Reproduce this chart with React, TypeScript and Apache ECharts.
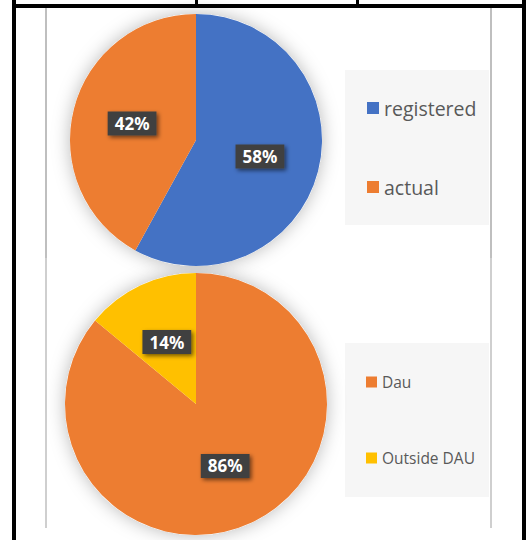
import React, { useEffect, useRef } from "react";
import * as echarts from "echarts";

const pie1Names = ["registered", "actual"];
const pie1Values = [58, 42];
const pie1Colors = ["#4472C4", "#ED7D31"];

const pie2Names = ["Dau", "Outside DAU"];
const pie2Values = [86, 14];
const pie2Colors = ["#ED7D31", "#FFC000"];

const sum = (a: number[]) => a.reduce((s, v) => s + v, 0);

export default function App() {
  const ref = useRef<HTMLDivElement>(null);
  useEffect(() => {
    if (!ref.current) return;
    const chart = echarts.init(ref.current, null, { renderer: "svg" });
    const labelStyle = {
      show: true,
      position: "inside",
      formatter: (p: any) => Math.round(p.percent) + "%",
      color: "#ffffff",
      fontWeight: "bold",
      fontSize: 17,
      fontFamily: "Noto Sans",
      backgroundColor: "#404040",
      padding: [4, 7, 3, 7],
      shadowColor: "rgba(0,0,0,0.55)",
      shadowBlur: 4,
      shadowOffsetX: 2,
      shadowOffsetY: 2,
    };
    const shadowSeries = (center: number[], radius: number, total: number) => ({
      type: "pie",
      silent: true,
      center,
      radius,
      z: 1,
      label: { show: false },
      labelLine: { show: false },
      itemStyle: {
        color: "#ffffff",
        shadowBlur: 18,
        shadowColor: "rgba(0,0,0,0.28)",
      },
      data: [{ value: total, name: "_bg" }],
    });
    const gray = "#bfbfbf";
    chart.setOption({
      animation: false,
      backgroundColor: "#ffffff",
      graphic: [
        { type: "rect", z: -1, shape: { x: 345, y: 70, width: 144, height: 155 }, style: { fill: "#f6f6f6" } },
        { type: "rect", z: -1, shape: { x: 345, y: 343, width: 144, height: 154 }, style: { fill: "#f6f6f6" } },
        { type: "rect", shape: { x: 45, y: 8, width: 2, height: 250 }, style: { fill: gray } },
        { type: "rect", shape: { x: 45, y: 258, width: 2, height: 270 }, style: { fill: "#cfcfcf" } },
        { type: "rect", shape: { x: 490, y: 8, width: 2, height: 250 }, style: { fill: gray } },
        { type: "rect", shape: { x: 490, y: 258, width: 2, height: 270 }, style: { fill: "#cfcfcf" } },
        { type: "rect", shape: { x: 12, y: 4, width: 514, height: 4 }, style: { fill: "#000" } },
        { type: "rect", shape: { x: 12, y: 0, width: 4, height: 540 }, style: { fill: "#000" } },
        { type: "rect", shape: { x: 522, y: 0, width: 4, height: 540 }, style: { fill: "#000" } },
        { type: "rect", shape: { x: 195, y: 0, width: 3, height: 6 }, style: { fill: "#000" } },
        { type: "rect", shape: { x: 356, y: 0, width: 3, height: 6 }, style: { fill: "#000" } },
      ],
      legend: [
        {
          data: pie1Names,
          orient: "vertical",
          left: 362,
          top: 91,
          itemWidth: 12,
          itemHeight: 12,
          itemGap: 55,
          icon: "rect",
          textStyle: { color: "#595959", fontSize: 19.5, lineHeight: 24, fontFamily: "Open Sans" },
          selectedMode: false,
        },
        {
          data: pie2Names,
          orient: "vertical",
          left: 361,
          top: 367,
          itemWidth: 11,
          itemHeight: 11,
          itemGap: 56,
          icon: "rect",
          textStyle: { color: "#595959", fontSize: 15.5, lineHeight: 20, fontFamily: "Open Sans" },
          selectedMode: false,
        },
      ],
      series: [
        shadowSeries([196, 140], 126, sum(pie1Values)),
        {
          type: "pie",
          center: [196, 140],
          radius: 126,
          z: 2,
          startAngle: 90,
          clockwise: true,
          label: labelStyle,
          labelLine: { show: false },
          data: pie1Names.map((n, i) => ({ name: n, value: pie1Values[i], itemStyle: { color: pie1Colors[i] } })),
        },
        shadowSeries([196, 404], 131, sum(pie2Values)),
        {
          type: "pie",
          center: [196, 404],
          radius: 131,
          z: 2,
          startAngle: 90,
          clockwise: true,
          label: labelStyle,
          labelLine: { show: false },
          data: pie2Names.map((n, i) => ({ name: n, value: pie2Values[i], itemStyle: { color: pie2Colors[i] } })),
        },
      ],
    });
    return () => chart.dispose();
  }, []);
  return (
    <div
      ref={ref}
      style={{ position: "absolute", left: 0, top: 0, width: 527, height: 540 }}
    />
  );
}
